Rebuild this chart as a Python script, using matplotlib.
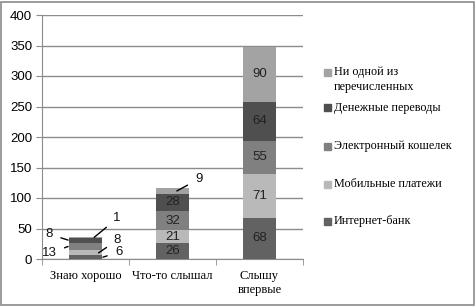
import matplotlib
matplotlib.use("Agg")
import matplotlib.pyplot as plt
from matplotlib.patches import Rectangle
import numpy as np

categories = ["Знаю хорошо", "Что-то слышал", "Слышу\nвпервые"]
series_names = ["Интернет-банк", "Мобильные платежи", "Электронный кошелек",
                "Денежные переводы", "Ни одной из\nперечисленных"]
internet_bank = [6, 26, 68]
mobile = [8, 21, 71]
e_wallet = [13, 32, 55]
transfers = [8, 28, 64]
none_of = [1, 9, 90]
series = [internet_bank, mobile, e_wallet, transfers, none_of]
colors = ["#626262", "#b9b9b9", "#808080", "#4f4f4f", "#a3a3a3"]

# labels drawn outside the bars with leader lines: (category, series, x shift, text offset px)
outside = [(0, 4, 0.10, (23, 19)), (0, 3, -0.2, (-19, 6)), (0, 2, -0.2, (-19, -7)),
           (0, 1, 0.15, (19, 13)), (0, 0, 0.2, (16, 5)), (1, 4, 0.05, (22, 12))]

fig = plt.figure(figsize=(4.76, 3.07), dpi=100)
ax = fig.add_axes([42 / 476, 1 - 259 / 307, 261 / 476, 244 / 307])

x = np.arange(len(categories))
bottom = np.zeros(len(categories))
for vals, col in zip(series, colors):
    ax.bar(x, vals, 0.39, bottom=bottom, color=col, zorder=3)
    for i, v in enumerate(vals):
        if i > 0 and not (i == 1 and vals is none_of):
            ax.text(x[i], bottom[i] + v / 2, str(v), ha="center", va="center",
                    fontsize=9.5, family="Liberation Sans", color="#222222", zorder=4)
    bottom += vals

cum = np.cumsum(np.array(series), axis=0) - np.array(series) / 2
for ci, si, dx, off in outside:
    ax.annotate(str(series[si][ci]), xy=(ci + dx, cum[si][ci]), xytext=off,
                textcoords="offset pixels", ha="center", va="center",
                fontsize=9.5, family="Liberation Sans", color="#111111",
                arrowprops=dict(arrowstyle="-", color="black", lw=1,
                                shrinkA=4, shrinkB=0), zorder=5)

ax.set_xlim(-0.5, 2.5)
ax.set_ylim(0, 400)
ax.set_yticks(np.arange(0, 401, 50))
ax.yaxis.grid(True, color="#8c8c8c", lw=1, zorder=0)
ax.set_xticks(x)
ax.set_xticklabels(categories, family="Liberation Serif", fontsize=9)
ax.set_xticks(np.arange(-0.5, 3, 1), minor=True)
ax.tick_params(axis="x", which="major", length=0, pad=8)
ax.tick_params(axis="x", which="minor", length=4, color="#8c8c8c")
ax.tick_params(axis="y", length=4, color="#8c8c8c", labelsize=9.5, pad=3)
for lab in ax.get_yticklabels():
    lab.set_family("Liberation Sans")
for s in ["top", "right"]:
    ax.spines[s].set_visible(False)
for s in ["left", "bottom"]:
    ax.spines[s].set_color("#8c8c8c")

# legend, top entry first
leg_y = [72, 108, 146, 184, 221]
for name, col, yy in zip(series_names[::-1], colors[::-1], leg_y):
    fig.patches.append(Rectangle((324 / 476, 1 - (yy + 3.5) / 307), 7 / 476, 7 / 307,
                                 transform=fig.transFigure, color=col))
    fig.text(334 / 476, 1 - (yy - 6) / 307, name, ha="left", va="top",
             family="Liberation Serif", fontsize=8.7, linespacing=1.35)

fig.patches.append(Rectangle((0.003, 0.005), 0.993, 0.99, transform=fig.transFigure,
                             fill=False, edgecolor="#8a8a8a", lw=1.2))
fig.savefig("out.png", dpi=100)
